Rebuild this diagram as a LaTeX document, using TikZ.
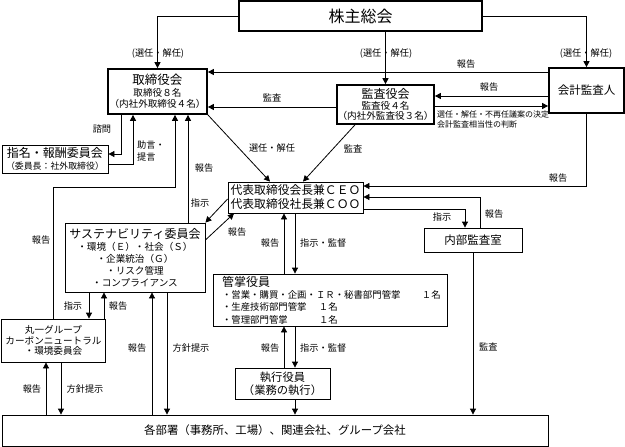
\documentclass[tikz,border=0pt]{standalone}
\usepackage{fontspec}
\setmainfont{Noto Sans CJK JP}
\usetikzlibrary{arrows.meta}
\tikzset{
  box/.style={draw, inner sep=0pt, align=center, line width=0.8pt},
  thickbox/.style={box, line width=1.7pt},
  lab/.style={font=\fontsize{9.2pt}{11.5pt}\selectfont, inner sep=0pt},
  arr/.style={-{Triangle[length=6pt,width=6pt]}, line width=0.8pt},
}
\begin{document}
\begin{tikzpicture}[x=1pt,y=-1pt]
\useasboundingbox (0,0) rectangle (625,447);
\node[thickbox, minimum width=243pt, minimum height=30pt, font=\fontsize{16pt}{18pt}\selectfont] (gm) at (360.5,16) {株主総会};
\node[thickbox, minimum width=99pt, minimum height=45pt, font=\fontsize{9.6pt}{11.5pt}\selectfont] (board) at (157.5,91.5) {{\fontsize{12.5pt}{12.5pt}\selectfont 取締役会}\\取締役８名\\（内社外取締役４名）};
\node[thickbox, minimum width=97pt, minimum height=39pt, font=\fontsize{9.6pt}{10.5pt}\selectfont] (audit) at (385.5,104.5) {{\fontsize{12pt}{12pt}\selectfont 監査役会}\\監査役４名\\（内社外監査役３名）};
\node[thickbox, minimum width=75pt, minimum height=45pt, font=\fontsize{11.5pt}{13pt}\selectfont] (acct) at (586.5,90.5) {会計監査人};
\node[box, minimum width=106pt, minimum height=28pt, font=\fontsize{8.9pt}{12.5pt}\selectfont] (nom) at (55,159) {{\fontsize{12pt}{12pt}\selectfont 指名・報酬委員会}\\（委員長：社外取締役）};
\node[box, minimum width=135pt, minimum height=31pt, font=\fontsize{11.8pt}{14pt}\selectfont] (ceo) at (295.5,197.5) {代表取締役会長兼ＣＥＯ\\代表取締役社長兼ＣＯＯ};
\node[box, minimum width=140pt, minimum height=69pt, font=\fontsize{9.6pt}{12pt}\selectfont] (sus) at (135,257.5) {{\fontsize{12pt}{12pt}\selectfont サステナビリティ委員会}\\・環境（Ｅ）・社会（Ｓ）\\・企業統治（Ｇ）\\・リスク管理\\・コンプライアンス};
\node[box, minimum width=98pt, minimum height=24pt, font=\fontsize{11.5pt}{13pt}\selectfont] (inaudit) at (473,240) {内部監査室};
\node[box, align=left, text width=216pt, inner xsep=9pt, minimum height=52pt, font=\fontsize{9.4pt}{12.3pt}\selectfont] (kansho) at (330,300) {{\fontsize{12pt}{12pt}\selectfont 管掌役員}\\\makebox[200pt][l]{・営業・購買・企画・ＩＲ・秘書部門管掌}１名\\\makebox[97pt][l]{・生産技術部門管掌}１名\\\makebox[97pt][l]{・管理部門管掌}１名};
\node[box, minimum width=95pt, minimum height=31pt, font=\fontsize{11.3pt}{13pt}\selectfont] (exec) at (282.5,383.5) {執行役員\\（業務の執行）};
\node[box, minimum width=104pt, minimum height=43pt, font=\fontsize{9.6pt}{10.5pt}\selectfont] (maru) at (53.5,340.5) {丸一グループ\\カーボンニュートラル\\・環境委員会};
\node[box, minimum width=546pt, minimum height=31pt, font=\fontsize{11.4pt}{13pt}\selectfont] (dept) at (275,430.5) {各部署（事務所、工場）、関連会社、グループ会社};
\draw[arr] (gm.west) -| (board.north);
\draw[arr] (gm.south -| audit.north) -- (audit.north);
\draw[arr] (gm.east) -| (acct.north);
\draw[arr] (acct.west |- 0,72) -- (board.east |- 0,72);
\draw[arr] (acct.west |- 0,96) -- (audit.east |- 0,96);
\draw[arr] (audit.east |- 0,106) -- (acct.west |- 0,106);
\draw[arr] (audit.west |- 0,107) -- (board.east |- 0,107);
\draw[arr] (board.south east) -- (ceo.north -| 270,0);
\draw[arr] (audit.south -| 355,0) -- (ceo.north -| 303,0);
\draw[arr] (board.south -| 121,0) |- (nom.east |- 0,154);
\draw[arr] (nom.east |- 0,164) -| (board.south -| 133,0);
\draw[arr] (maru.north) -- (maru.north |- 0,187) -| (board.south -| 175,0);
\draw[arr] (sus.north -| 188,0) -- (board.south -| 188,0);
\draw[arr] (ceo.west |- 0,199) -- (sus.north east);
\draw[arr] (sus.east |- 0,240) -- (ceo.south west -| 234,0);
\draw[arr] (sus.south -| 89,0) -- (maru.north -| 89,0);
\draw[arr] (maru.north -| 104,0) -- (sus.south -| 104,0);
\draw[arr] (dept.north -| 152,0) -- (sus.south -| 152,0);
\draw[arr] (sus.south -| 167,0) -- (dept.north -| 167,0);
\draw[arr] (dept.north -| 46,0) -- (maru.south -| 46,0);
\draw[arr] (maru.south -| 61,0) -- (dept.north -| 61,0);
\draw[arr] (ceo.south -| 295,0) -- (kansho.north -| 295,0);
\draw[arr] (kansho.north -| 284,0) -- (ceo.south -| 284,0);
\draw[arr] (kansho.south -| 295,0) -- (exec.north -| 295,0);
\draw[arr] (exec.north -| 284,0) -- (kansho.south -| 284,0);
\draw[arr] (exec.south -| 295,0) -- (dept.north -| 295,0);
\draw[arr] (acct.south) |- (ceo.east |- 0,186);
\draw[arr] (inaudit.north -| 480,0) |- (ceo.east |- 0,197);
\draw[arr] (ceo.east |- 0,209) -| (inaudit.north -| 465,0);
\draw[arr] (inaudit.south) -- (inaudit.south |- dept.north);
\node[lab] (selboard) at (158,54) {(選任・解任)};
\node[lab] (selaudit) at (386,54) {(選任・解任)};
\node[lab] (selacct) at (586,54) {(選任・解任)};
\node[lab] (repacct1) at (466,64) {報告};
\node[lab] (repacct2) at (489,87) {報告};
\node[lab, anchor=north west, align=left, font=\fontsize{8pt}{10pt}\selectfont] (decide) at (437,111) {選任・解任・不再任議案の決定\\会計監査相当性の判断};
\node[lab] (audboard) at (272,98) {監査};
\node[lab] (selceo) at (272,148) {選任・解任};
\node[lab] (audceo) at (353,149) {監査};
\node[lab] (consult) at (102,129) {諮問};
\node[lab, anchor=west, align=left] (advise) at (137,151) {助言・\\提言};
\node[lab] (repmaru1) at (41,240) {報告};
\node[lab] (repsus1) at (204,168) {報告};
\node[lab] (instsus) at (200,203) {指示};
\node[lab] (repsus2) at (237,232) {報告};
\node[lab] (instmaru) at (73,306) {指示};
\node[lab] (repmaru2) at (118,306) {報告};
\node[lab] (repdept1) at (137,348) {報告};
\node[lab] (poldept1) at (191,348) {方針提示};
\node[lab] (repdept2) at (32,389) {報告};
\node[lab] (poldept2) at (85,389) {方針提示};
\node[lab] (repkan) at (270,243) {報告};
\node[lab, anchor=west] (supkan) at (300,243) {指示・監督};
\node[lab] (repexec) at (270,348) {報告};
\node[lab, anchor=west] (supexec) at (300,348) {指示・監督};
\node[lab] (repacct3) at (558,178) {報告};
\node[lab] (repin) at (494,214) {報告};
\node[lab] (instin) at (442,217) {指示};
\node[lab, anchor=west] (audin) at (479,347) {監査};
\end{tikzpicture}
\end{document}
